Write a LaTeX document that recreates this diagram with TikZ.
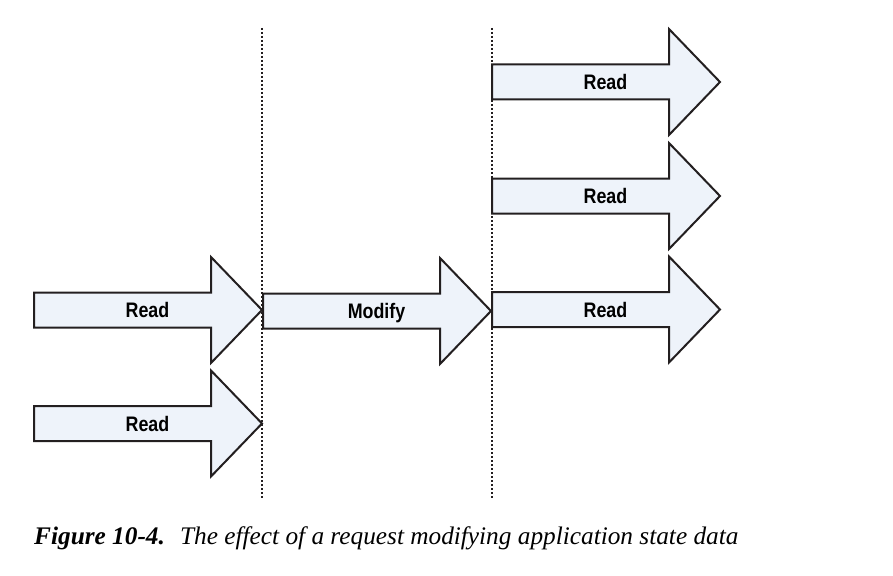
\documentclass[tikz,border=0pt]{standalone}
\usepackage{fontspec}
\setmainfont{Liberation Serif}
\newfontfamily\labelfont[FakeStretch=0.85]{Liberation Sans}
\usetikzlibrary{positioning}
\definecolor{arrowfill}{RGB}{238,243,250}
\definecolor{arrowline}{RGB}{35,31,32}
\tikzset{
	arrowbox/.style={draw=arrowline, fill=arrowfill, line width=2pt, line join=miter},
	arrowlabel/.style={font=\labelfont\bfseries\fontsize{21}{21}\selectfont, text=black, inner sep=0pt, anchor=base},
	divider/.style={line width=2pt, dash pattern=on 2pt off 2pt, arrowline}
}
% #1 = shaft left x, #2 = tip y, #3 = node name, #4 = label
\newcommand{\stateArrow}[4]{
	\draw[arrowbox] (#1,#2-17.5) -- (#1+177,#2-17.5) -- (#1+177,#2-53)
		-- (#1+228,#2) -- (#1+177,#2+53) -- (#1+177,#2+17.5) -- (#1,#2+17.5) -- cycle;
	\node[arrowlabel] (#3) at (#1+113.5,#2+7.5) {#4};
}

\begin{document}
\begin{tikzpicture}[x=1pt, y=-1pt]
	\useasboundingbox (0,0) rectangle (893,575);
	% request boundaries
	\draw[divider] (262,28) -- (262,498);
	\draw[divider] (492,28) -- (492,498);
	% requests before the change
	\stateArrow{34}{310}{readA}{Read}
	\stateArrow{34}{423.5}{readB}{Read}
	% the modifying request
	\stateArrow{263}{311}{modify}{Modify}
	% requests after the change
	\stateArrow{492}{82}{readC}{Read}
	\stateArrow{492}{196}{readD}{Read}
	\stateArrow{492}{309.5}{readE}{Read}
	\node[anchor=base west, inner sep=0pt, font=\fontsize{25.3}{25.3}\selectfont] (caption) at (34,544)
		{\textbf{\textit{Figure 10-4.}}\hspace{0.6em}\textit{The effect of a request modifying application state data}};
\end{tikzpicture}
\end{document}
